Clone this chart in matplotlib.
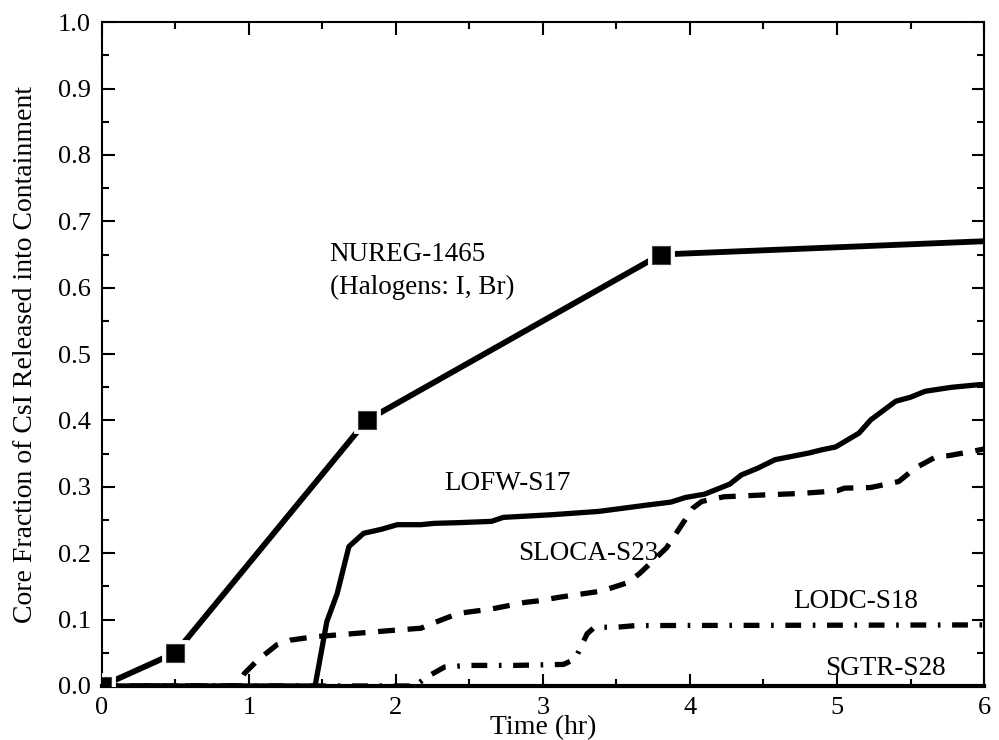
import matplotlib
matplotlib.use("Agg")
import matplotlib.pyplot as plt
from matplotlib.ticker import MultipleLocator, FormatStrFormatter

# NUREG-1465 halogen release (source term points)
nureg_t = [0.0, 0.5, 1.8, 3.8, 6.0]
nureg_v = [0.0, 0.05, 0.40, 0.65, 0.67]
nureg_mark_t = [0.0, 0.5, 1.8, 3.8]
nureg_mark_v = [0.0, 0.05, 0.40, 0.65]

lofw_t = [0.0, 1.45, 1.53, 1.60, 1.68, 1.78, 1.90, 2.01, 2.17, 2.26, 2.42, 2.65, 2.73,
          3.06, 3.38, 3.69, 3.87, 3.97, 4.10, 4.27, 4.35, 4.46, 4.58, 4.81, 4.90, 4.99,
          5.15, 5.23, 5.40, 5.50, 5.60, 5.78, 5.97, 6.0]
lofw_v = [0.0, 0.0, 0.097, 0.139, 0.21, 0.23, 0.236, 0.243, 0.243, 0.245, 0.246, 0.248, 0.254,
          0.258, 0.263, 0.272, 0.277, 0.284, 0.289, 0.304, 0.318, 0.328, 0.341, 0.351, 0.356, 0.360,
          0.381, 0.401, 0.429, 0.435, 0.444, 0.450, 0.454, 0.454]

sloca_t = [0.0, 0.92, 0.97, 1.06, 1.19, 1.28, 1.44, 1.99, 2.17, 2.28, 2.42, 2.48, 2.65, 2.88,
           2.96, 3.12, 3.40, 3.58, 3.66, 3.84, 4.02, 4.08, 4.23, 4.52, 4.75, 5.00, 5.05, 5.23,
           5.42, 5.53, 5.68, 5.76, 5.91, 6.0]
sloca_v = [0.0, 0.0, 0.019, 0.039, 0.062, 0.069, 0.074, 0.084, 0.087, 0.097, 0.109, 0.111, 0.116, 0.126,
           0.128, 0.134, 0.143, 0.156, 0.170, 0.208, 0.268, 0.278, 0.285, 0.288, 0.290, 0.294, 0.298, 0.299,
           0.308, 0.328, 0.346, 0.347, 0.353, 0.357]

lodc_t = [0.0, 2.13, 2.21, 2.33, 2.49, 2.81, 3.14, 3.22, 3.30, 3.35, 3.50, 3.63, 6.0]
lodc_v = [0.0, 0.0, 0.0135, 0.0285, 0.031, 0.031, 0.0325, 0.041, 0.0785, 0.0885, 0.0885, 0.091, 0.092]

sgtr_t = [0.0, 6.0]
sgtr_v = [0.001, 0.001]

plt.rcParams["font.family"] = ["Liberation Serif", "DejaVu Serif"]

fig = plt.figure(figsize=(9.99, 7.40), dpi=100)
ax = fig.add_axes([0.102, 0.073, 0.883, 0.897])

ax.plot(nureg_t, nureg_v, "-", color="black", lw=4.2, solid_capstyle="butt", zorder=3)
ax.plot(nureg_mark_t, nureg_mark_v, "s", ms=16, mfc="black", mec="white", mew=3.5, zorder=4)
ax.plot(nureg_mark_t, nureg_mark_v, "s", ms=13, mfc="black", mec="#444444", mew=0.8, zorder=5)

ax.plot(lofw_t, lofw_v, "-", color="black", lw=3.8, zorder=3)
ax.plot(sloca_t, sloca_v, color="black", lw=3.8, dashes=(3.2, 2.4), zorder=3)
ax.plot(lodc_t, lodc_v, color="black", lw=3.8, dashes=(3.0, 2.2, 0.5, 2.2), zorder=3)
ax.plot(sgtr_t, sgtr_v, color="black", lw=1.3, dashes=(1, 4), zorder=3)

fs = 19.5
ax.text(1.55, 0.650, "NUREG-1465", fontsize=fs, va="center", ha="left")
ax.text(1.55, 0.600, "(Halogens: I, Br)", fontsize=fs, va="center", ha="left")
ax.text(2.33, 0.305, "LOFW-S17", fontsize=fs, va="center", ha="left")
ax.text(2.83, 0.200, "SLOCA-S23", fontsize=fs, va="center", ha="left")
ax.text(4.70, 0.128, "LODC-S18", fontsize=fs, va="center", ha="left")
ax.text(4.92, 0.026, "SGTR-S28", fontsize=fs, va="center", ha="left")

ax.set_xlim(0, 6)
ax.set_ylim(0, 1.0)
ax.xaxis.set_major_locator(MultipleLocator(1))
ax.xaxis.set_minor_locator(MultipleLocator(0.5))
ax.yaxis.set_major_locator(MultipleLocator(0.1))
ax.yaxis.set_minor_locator(MultipleLocator(0.05))
ax.yaxis.set_major_formatter(FormatStrFormatter("%.1f"))
ax.tick_params(which="both", direction="in", top=True, right=True, width=1.5, labelsize=19)
ax.tick_params(which="major", length=9, pad=8)
ax.tick_params(which="minor", length=5)
for s in ax.spines.values():
    s.set_linewidth(1.5)
ax.spines["bottom"].set_linewidth(3)

ax.set_xlabel("Time (hr)", fontsize=20, labelpad=-3)
ax.set_ylabel("Core Fraction of CsI Released into Containment", fontsize=20, labelpad=14)

fig.savefig("out.png", dpi=100)
